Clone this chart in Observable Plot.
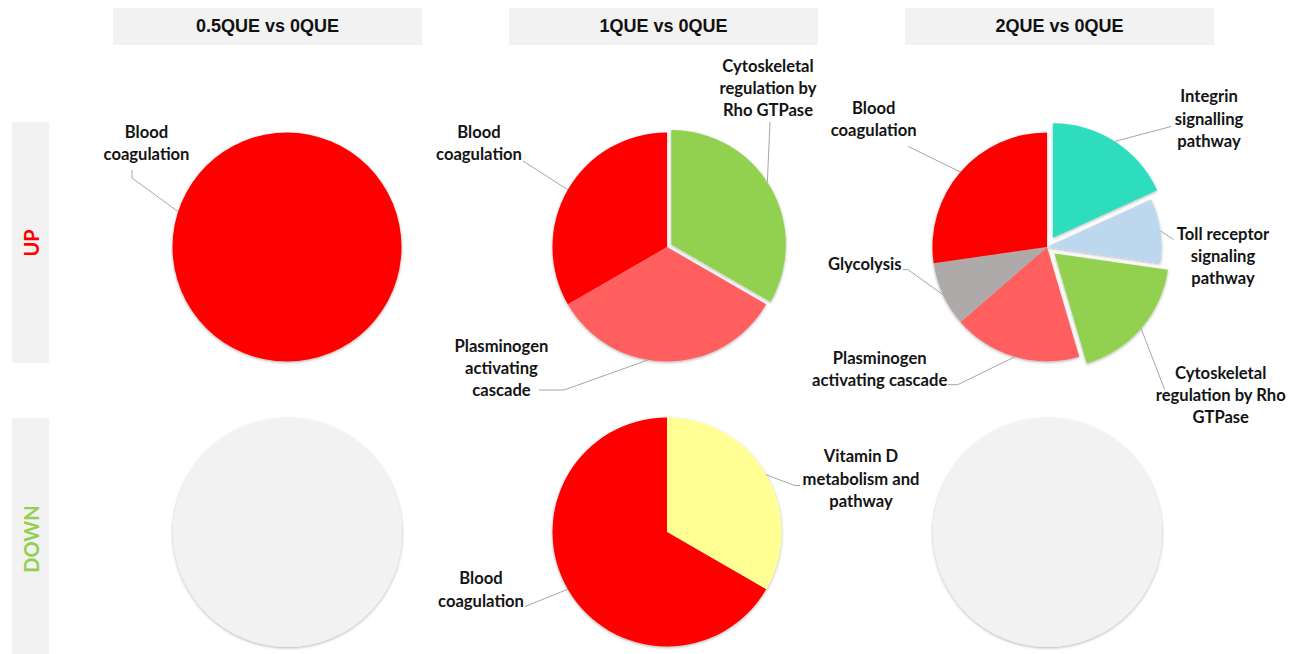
<!DOCTYPE html>
<html><head><meta charset="utf-8">
<script src="https://cdn.jsdelivr.net/npm/d3@7"></script>
<script src="https://cdn.jsdelivr.net/npm/@observablehq/plot@0.6"></script>
<style>
html,body{margin:0;padding:0;background:#fff;}
#wrap{position:relative;width:1289px;height:654px;overflow:hidden;background:#fff;}
.hdr{position:absolute;top:8px;height:37px;width:309px;background:#f2f2f2;display:flex;align-items:center;justify-content:center;font:bold 18px "Liberation Sans",Arial,sans-serif;color:#111;z-index:2;}
.row{position:absolute;left:12px;width:37px;background:#f2f2f2;z-index:2;}
.row span{position:absolute;left:50%;top:50%;transform:translate(-50%,-50%) rotate(-90deg);font:bold 20px Lato,sans-serif;white-space:nowrap;}
#chart{position:absolute;left:0;top:0;z-index:1;}
</style></head>
<body><div id="wrap"><div id="chart"></div></div>
<script>
// ---------- data ----------
const comparisons = ["0.5QUE vs 0QUE", "1QUE vs 0QUE", "2QUE vs 0QUE"];
const directions = ["UP", "DOWN"];
const directionColors = ["#ff0000", "#92d050"];

const pathways = [
  "Blood coagulation",
  "Plasminogen activating cascade",
  "Cytoskeletal regulation by Rho GTPase",
  "Vitamin D metabolism and pathway",
  "Integrin signalling pathway",
  "Toll receptor signaling pathway",
  "Glycolysis"
];
const pathwayColors = ["#ff0000", "#ff5f5f", "#92d050", "#ffff93", "#2ddcbe", "#bdd7ee", "#aeaaaa"];

const sliceComparison = [
  "0.5QUE vs 0QUE",
  "1QUE vs 0QUE", "1QUE vs 0QUE", "1QUE vs 0QUE",
  "1QUE vs 0QUE", "1QUE vs 0QUE",
  "2QUE vs 0QUE", "2QUE vs 0QUE", "2QUE vs 0QUE", "2QUE vs 0QUE", "2QUE vs 0QUE", "2QUE vs 0QUE"
];
const sliceDirection = ["UP", "UP", "UP", "UP", "DOWN", "DOWN", "UP", "UP", "UP", "UP", "UP", "UP"];
const slicePathway = [
  "Blood coagulation",
  "Cytoskeletal regulation by Rho GTPase", "Plasminogen activating cascade", "Blood coagulation",
  "Vitamin D metabolism and pathway", "Blood coagulation",
  "Integrin signalling pathway", "Toll receptor signaling pathway", "Cytoskeletal regulation by Rho GTPase",
  "Plasminogen activating cascade", "Glycolysis", "Blood coagulation"
];
const sliceCount = [1, 1, 1, 1, 1, 2, 2, 1, 2, 2, 1, 3];

const emptyComparison = ["0.5QUE vs 0QUE", "2QUE vs 0QUE"];
const emptyDirection = ["DOWN", "DOWN"];

// ---------- layout (not data) ----------
const R = 114.5;
const sliceExplode = [0, 5, 0, 0, 0, 0, 11, 0, 10, 0, 0, 0];
const labelLines = [
  ["Blood", "coagulation"],
  ["Cytoskeletal", "regulation by", "Rho GTPase"], ["Plasminogen", "activating", "cascade"], ["Blood", "coagulation"],
  ["Vitamin D", "metabolism and", "pathway"], ["Blood", "coagulation"],
  ["Integrin", "signalling", "pathway"], ["Toll receptor", "signaling", "pathway"], ["Cytoskeletal", "regulation by Rho", "GTPase"],
  ["Plasminogen", "activating cascade"], ["Glycolysis"], ["Blood", "coagulation"]
];
const labelDX = [-140.5, 101, -165.5, -188, 194, -186, 162, 176, 173.7, -167.3, -182.3, -173.3];
const labelDY = [-115, -181, 99, -115, -75.5, 46.5, -150.6, -13.3, 126, 111, 16.7, -139];
const leaderStart = [
  [[-155, -77], [-155, -69]],
  [[103, -125]], [[-128, 143], [-103, 143]], [[-144, -86]],
  [[133, -46.5], [127.7, -46.5]], [[-142, 74.5]],
  [[124.4, -120.6]], [[126.7, -7.3]], [[117.7, 142.7]],
  [[-99.3, 137.7], [-89.3, 137.7]], [[-144, 22.7], [-139, 22.7]], [[-139, -100.6]]
];
const leaderShift = [108, -3, 9.5, 0, 0, 0, 0, 0, 0, 0, 0, 0];
const lineGap = 22.3;

// ---------- build ----------
const slices = sliceComparison.map((c, i) => ({
  i, comparison: c, direction: sliceDirection[i], pathway: slicePathway[i], count: sliceCount[i]
}));
const empties = emptyComparison.map((c, i) => ({comparison: c, direction: emptyDirection[i]}));
const color = Plot.scale({color: {type: "ordinal", domain: pathways, range: pathwayColors}});

function pieMark(index, scales) {
  const g = d3.create("svg:g");
  const groups = d3.groups(slices, d => d.comparison + "|" + d.direction);
  const arcGen = d3.arc().innerRadius(0).outerRadius(R);
  const ends = [];
  for (const [, group] of groups) {
    const cx = scales.x(group[0].comparison), cy = scales.y(group[0].direction);
    const arcs = d3.pie().sort(null).value(d => d.count)(group);
    const pg = g.append("g").attr("filter", "url(#pieShadow)");
    for (const a of arcs) {
      const d = a.data, mid = (a.startAngle + a.endAngle) / 2, off = sliceExplode[d.i];
      const ox = cx + off * Math.sin(mid), oy = cy - off * Math.cos(mid);
      pg.append("path").attr("d", arcGen(a)).attr("transform", `translate(${ox},${oy})`)
        .attr("fill", color.apply(d.pathway));
      const ang = mid + leaderShift[d.i] * Math.PI / 180;
      ends.push({d, cx, cy, ex: ox + R * Math.sin(ang), ey: oy - R * Math.cos(ang)});
    }
  }
  for (const e of ends) {
    const i = e.d.i;
    const pts = leaderStart[i].map(([dx, dy]) => [e.cx + dx, e.cy + dy]).concat([[e.ex, e.ey]]);
    g.append("path").attr("d", d3.line()(pts)).attr("fill", "none").attr("stroke", "#a6a6a6").attr("stroke-width", 1);
    const t = g.append("text").attr("text-anchor", "middle")
      .attr("font-family", "Lato, sans-serif").attr("font-weight", 700).attr("font-size", 16.6).attr("fill", "#141414");
    labelLines[i].forEach((ln, k) => {
      t.append("tspan").attr("x", e.cx + labelDX[i]).attr("y", e.cy + labelDY[i] + k * lineGap).attr("dy", "0.35em").text(ln);
    });
  }
  return g.node();
}

const plot = Plot.plot({
  width: 1289, height: 654, margin: 0,
  x: {type: "point", domain: comparisons, range: [286.5, 1046.5], padding: 0, axis: null},
  y: {type: "point", domain: directions, range: [246.5, 531.5], padding: 0, axis: null},
  marks: [
    Plot.dot(empties, {x: "comparison", y: "direction", r: R, fill: "#f2f2f2"}),
    pieMark
  ]
});
const svg = d3.select(plot);
svg.style("background", "transparent");
svg.insert("defs", ":first-child").html(
  '<filter id="pieShadow" x="-20%" y="-20%" width="140%" height="140%"><feDropShadow dx="0" dy="1" stdDeviation="1.6" flood-color="#000" flood-opacity="0.32"/></filter>'
);
svg.selectAll("circle").attr("filter", "url(#pieShadow)");
document.getElementById("chart").appendChild(plot);

// headers and row labels
const headerLeft = [113, 509, 905];
const wrap = document.getElementById("wrap");
comparisons.forEach((c, i) => {
  const h = document.createElement("div");
  h.className = "hdr"; h.style.left = headerLeft[i] + "px"; h.textContent = c;
  wrap.appendChild(h);
});
const rowTop = [122, 418], rowHeight = [241, 241];
directions.forEach((dName, i) => {
  const r = document.createElement("div");
  r.className = "row"; r.style.top = rowTop[i] + "px"; r.style.height = rowHeight[i] + "px";
  const s = document.createElement("span"); s.textContent = dName; s.style.color = directionColors[i];
  r.appendChild(s); wrap.appendChild(r);
});
</script>
</body></html>
